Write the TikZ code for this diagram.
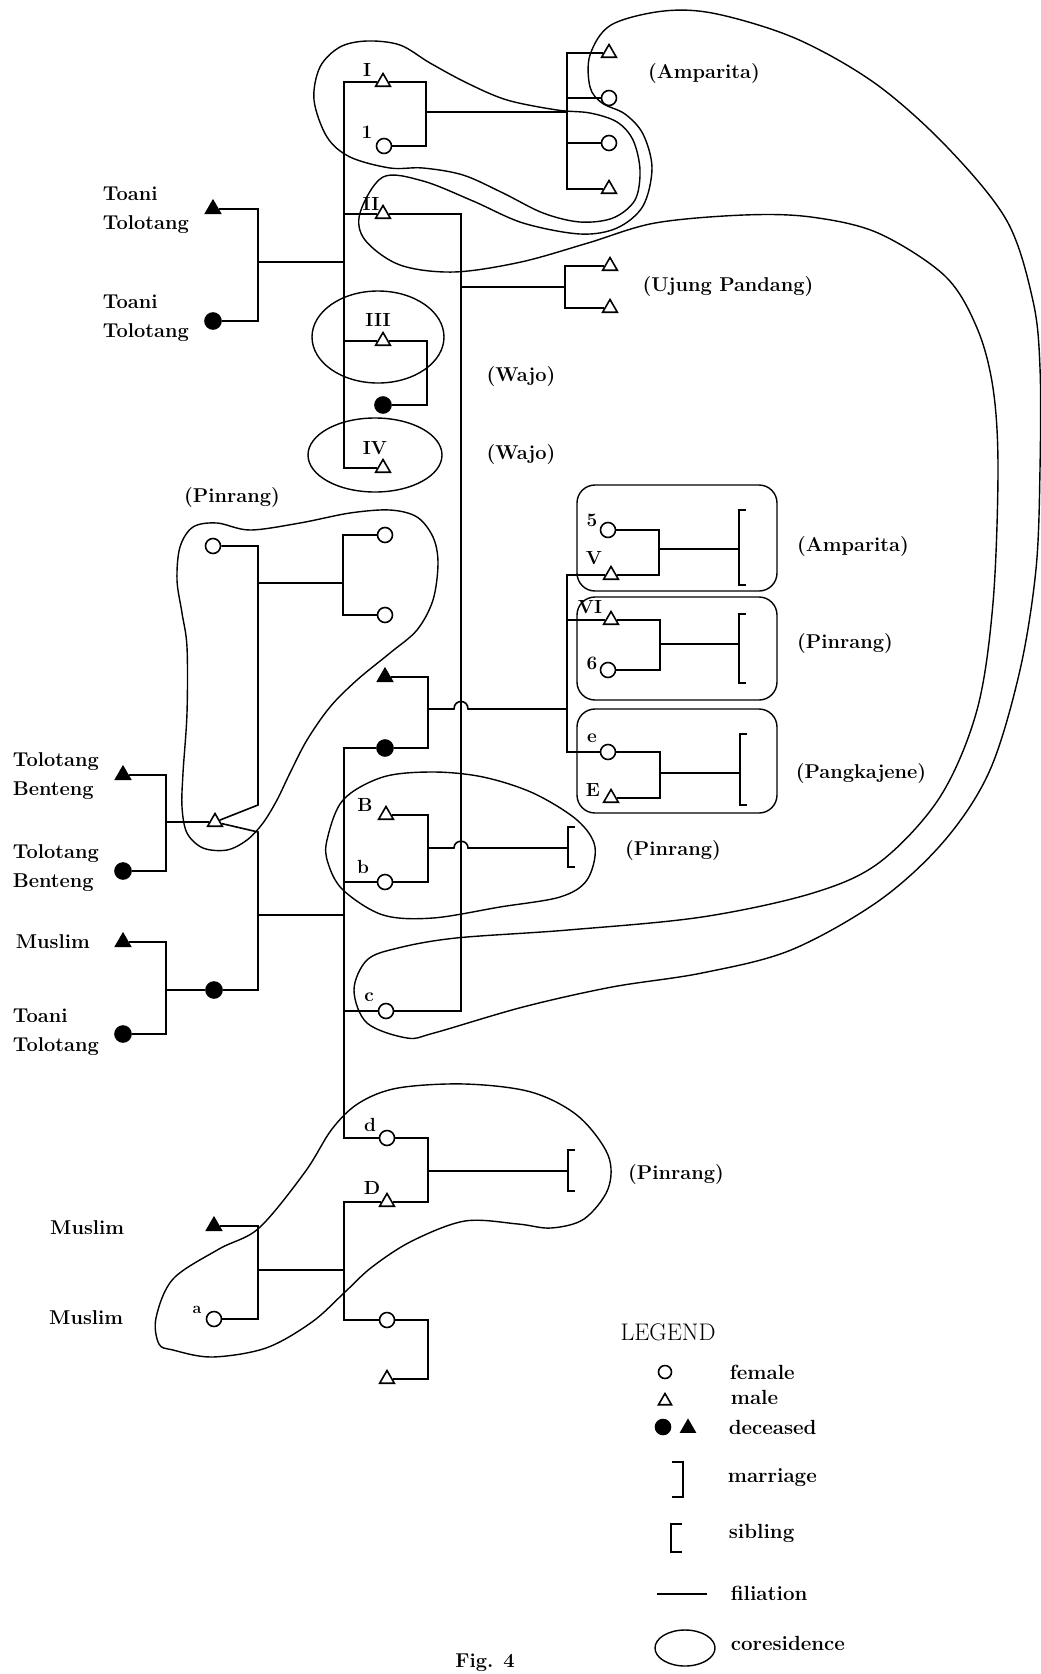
\documentclass[tikz,border=0pt]{standalone}
\usepackage{fontspec}
\usetikzlibrary{shapes.geometric}
\begin{document}
\begin{tikzpicture}[x=1pt,y=-1pt,line width=1.6pt,
  fem/.style={circle,draw,fill=white,minimum size=15pt,inner sep=0pt},
  dfem/.style={circle,draw,fill=black,minimum size=16pt,inner sep=0pt},
  mal/.style={regular polygon,regular polygon sides=3,draw,fill=white,minimum size=17pt,inner sep=0pt},
  dmal/.style={regular polygon,regular polygon sides=3,draw,fill=black,minimum size=17pt,inner sep=0pt},
  lbl/.style={font=\fontsize{19}{22}\selectfont\bfseries,inner sep=0pt},
  place/.style={font=\fontsize{20}{24}\selectfont\bfseries,inner sep=0pt},
  pname/.style={font=\fontsize{20}{29}\selectfont\bfseries,align=left,anchor=west,inner sep=0pt},
  leg/.style={font=\fontsize{20.5}{24}\selectfont\bfseries,anchor=west,inner sep=0pt},
  blob/.style={line width=1.4pt},
  box/.style={line width=1.4pt,rounded corners=18pt},
  ]
\useasboundingbox (0,0) rectangle (1041,1674);
\clip (0,0) rectangle (1041,1674);

% ---------------- coresidence shapes ----------------
\draw[blob] plot[smooth cycle,tension=0.55] coordinates {(314,100) (320,67) (340,47) (367,41) (400,45) (430,63) (467,83) (507,100) (557,110) (590,113) (617,122) (633,140) (640,170) (635,200) (613,218) (580,222) (543,213) (503,193) (463,175) (423,168) (390,168) (350,157) (327,137)};
\draw[blob] plot[smooth cycle,tension=0.55] coordinates {(360,213) (383,177) (423,181) (473,201) (523,223) (580,234) (617,228) (643,206) (652,168) (643,134) (625,114) (602,103) (590,87) (590,55) (611,25) (664,11) (717,14) (797,39) (876,84) (947,147) (1007,221) (1033,301) (1040,368) (1040,469) (1036,569) (1020,670) (990,770) (945,840) (880,900) (791,950) (702,973) (612,987) (523,1007) (434,1033) (407,1038) (367,1023) (354,990) (367,960) (398,948) (456,938) (568,930) (702,917) (813,893) (880,862) (940,797) (977,710) (993,603) (998,469) (993,388) (977,328) (945,276) (878,233) (811,217) (744,215) (655,223) (588,243) (521,262) (454,272) (400,265) (365,240)};
\draw[blob] (378,337) ellipse [x radius=66, y radius=46];
\draw[blob] (375,455) ellipse [x radius=67, y radius=37];
\draw[blob] plot[smooth cycle,tension=0.55] coordinates {(180,547) (193,527) (217,523) (250,530) (300,523) (350,513) (390,510) (417,517) (433,537) (438,563) (433,600) (417,630) (390,653) (357,680) (330,707) (307,740) (290,773) (277,800) (263,823) (247,840) (227,850) (203,848) (187,833) (182,807) (183,773) (187,713) (187,647) (182,613) (177,580)};
\draw[blob] plot[smooth cycle,tension=0.55] coordinates {(327,840) (343,800) (383,777) (433,772) (483,777) (533,793) (577,820) (595,847) (587,880) (560,897) (500,907) (433,918) (383,915) (343,890) (328,863)};
\draw[blob] plot[smooth cycle,tension=0.55] coordinates {(159,1344) (156,1318) (173,1279) (219,1249) (259,1228) (305,1172) (332,1129) (359,1103) (398,1088) (465,1084) (531,1092) (578,1116) (608,1155) (608,1189) (584,1219) (551,1228) (518,1224) (465,1221) (412,1241) (372,1267) (345,1292) (312,1322) (266,1348) (212,1357) (173,1350)};
\draw[box] (577,485) rectangle (777,591);
\draw[box] (577,597) rectangle (777,700);
\draw[box] (577,709) rectangle (777,813);

% ---------------- individuals ----------------
\node[dmal] (tt1) at (213,209) {};
\node[dfem] (tt2) at (213,321) {};
\node[mal] (I) at (383,82) {};
\node[fem] (w1) at (384,146) {};
\node[mal] (II) at (383,214) {};
\node[mal] (III) at (383,341) {};
\node[dfem] (w3) at (383,405) {};
\node[mal] (IV) at (383,468) {};
\node[mal] (ch1) at (609,53) {};
\node[fem] (ch2) at (609,98) {};
\node[fem] (ch3) at (609,143) {};
\node[mal] (ch4) at (609,189) {};
\node[mal] (up1) at (610,266) {};
\node[mal] (up2) at (610,308) {};
\node[fem] (pw) at (213,546) {};
\node[fem] (pc1) at (385,535) {};
\node[fem] (pc2) at (385,615) {};
\node[mal] (T) at (215,822) {};
\node[dmal] (tb1) at (123,775) {};
\node[dfem] (tb2) at (123,871) {};
\node[dfem] (W2) at (214,990) {};
\node[dmal] (mu1) at (123,942) {};
\node[dfem] (tt3) at (123,1034) {};
\node[dmal] (fm) at (385,677) {};
\node[dfem] (ff) at (385,748) {};
\node[fem] (f5) at (608,530) {};
\node[mal] (V) at (611,575) {};
\node[mal] (VI) at (611,620) {};
\node[fem] (f6) at (608,670) {};
\node[fem] (fe) at (608,752) {};
\node[mal] (ME) at (611,798) {};
\node[mal] (B) at (386,815) {};
\node[fem] (fb) at (385,882) {};
\node[fem] (fc) at (386,1011) {};
\node[fem] (fd) at (387,1138) {};
\node[mal] (D) at (387,1202) {};
\node[dmal] (mu2) at (214,1226) {};
\node[fem] (fa) at (214,1319) {};
\node[fem] (fl) at (387,1320) {};
\node[mal] (ml) at (387,1379) {};

% ---------------- coordinates ----------------
\coordinate (m1) at (258,262);  \coordinate (s1) at (344,262);
\coordinate (m2) at (426,112);  \coordinate (s2) at (567,112);
\coordinate (m3) at (461,287);  \coordinate (s3) at (565,287);
\coordinate (m4) at (427,373);
\coordinate (m5) at (258,583);  \coordinate (s5) at (343,583);
\coordinate (k1) at (258,805);
\coordinate (m6) at (166,822);
\coordinate (k2) at (258,832);  \coordinate (m7) at (258,915);  \coordinate (s7) at (344,915);
\coordinate (m8) at (166,990);
\coordinate (m9) at (428,709);  \coordinate (s9) at (567,709);
\coordinate (m10) at (659,549); \coordinate (b10) at (739,549);
\coordinate (bt10) at (746,510); \coordinate (bb10) at (746,585);
\coordinate (m11) at (660,644); \coordinate (b11) at (739,644);
\coordinate (bt11) at (746,614); \coordinate (bb11) at (746,683);
\coordinate (m12) at (660,773); \coordinate (b12) at (740,773);
\coordinate (bt12) at (747,734); \coordinate (bb12) at (747,805);
\coordinate (m13) at (428,848); \coordinate (b13) at (568,848);
\coordinate (bt13) at (575,827); \coordinate (bb13) at (575,867);
\coordinate (m14) at (428,1171); \coordinate (b14) at (568,1171);
\coordinate (bt14) at (575,1150); \coordinate (bb14) at (575,1191);
\coordinate (m15) at (258,1270); \coordinate (s15) at (344,1270);
\coordinate (m16) at (428,1350);

% ---------------- connectors ----------------
\draw (tt1) -| (m1) |- (tt2);
\draw (m1) -- (s1);
\draw (I) -| (s1) |- (IV);
\draw (II) -- (II -| s1);
\draw (III) -- (III -| s1);
\draw (I) -| (m2) |- (w1);
\draw (m2) -- (s2);
\draw (ch1) -| (s2) |- (ch4);
\draw (ch2) -- (ch2 -| s2);
\draw (ch3) -- (ch3 -| s2);
\draw (II) -| (m3) |- (fc);
\draw (m3) -- (s3);
\draw (up1) -| (s3) |- (up2);
\draw (III) -| (m4) |- (w3);
\draw (pw) -| (k1) -- (T);
\draw (m5) -- (s5);
\draw (pc1) -| (s5) |- (pc2);
\draw (tb1) -| (m6) |- (tb2);
\draw (m6) -- (T);
\draw (T) -- (k2) -- (m7) |- (W2);
\draw (mu1) -| (m8) |- (tt3);
\draw (m8) -- (W2);
\draw (m7) -- (s7);
\draw (ff) -| (s7) |- (fd);
\draw (fb) -- (fb -| s7);
\draw (fc) -- (fc -| s7);
\draw (fm) -| (m9) |- (ff);
\draw (m9) -- (454,709) .. controls (454,699) and (468,699) .. (468,709) -- (s9);
\draw (V) -| (s9) |- (fe);
\draw (VI) -- (VI -| s9);
\draw (f5) -| (m10) |- (V);
\draw (m10) -- (b10);
\draw (bt10) -| (b10) |- (bb10);
\draw (VI) -| (m11) |- (f6);
\draw (m11) -- (b11);
\draw (bt11) -| (b11) |- (bb11);
\draw (fe) -| (m12) |- (ME);
\draw (m12) -- (b12);
\draw (bt12) -| (b12) |- (bb12);
\draw (B) -| (m13) |- (fb);
\draw (m13) -- (454,848) .. controls (454,839) and (468,839) .. (468,848) -- (b13);
\draw (bt13) -| (b13) |- (bb13);
\draw (fd) -| (m14) |- (D);
\draw (m14) -- (b14);
\draw (bt14) -| (b14) |- (bb14);
\draw (mu2) -| (m15) |- (fa);
\draw (m15) -- (s15);
\draw (D) -| (s15) |- (fl);
\draw (fl) -| (m16) |- (ml);

% ---------------- labels ----------------
\node[lbl] (lI) at (367,70) {I};
\node[lbl] (l1) at (367,132) {1};
\node[lbl] (lII) at (371,204) {II};
\node[lbl] (lIII) at (378,320) {III};
\node[lbl] (lIV) at (375,448) {IV};
\node[lbl] (l5) at (592,520) {5};
\node[lbl] (lV) at (594,558) {V};
\node[lbl] (lVI) at (590,607) {VI};
\node[lbl] (l6) at (592,663) {6};
\node[lbl] (le) at (592,738) {e};
\node[lbl] (lE) at (593,790) {E};
\node[lbl] (lB) at (365,805) {B};
\node[lbl] (lb) at (363,867) {b};
\node[lbl] (lc) at (369,997) {c};
\node[lbl] (ld) at (370,1125) {d};
\node[lbl] (lD) at (372,1188) {D};
\node[lbl,font=\fontsize{16}{18}\selectfont\bfseries] (la) at (197,1310) {a};

\node[place] (p1) at (704,74) {(Amparita)};
\node[place] (p2) at (728,287) {(Ujung Pandang)};
\node[place] (p3) at (521,377) {(Wajo)};
\node[place] (p4) at (521,455) {(Wajo)};
\node[place] (p5) at (232,498) {(Pinrang)};
\node[place] (p6) at (853,546) {(Amparita)};
\node[place] (p7) at (845,643) {(Pinrang)};
\node[place] (p8) at (861,773) {(Pangkajene)};
\node[place] (p9) at (673,850) {(Pinrang)};
\node[place] (p10) at (676,1174) {(Pinrang)};

\node[pname] (n1) at (102,210) {Toani\\Tolotang};
\node[pname] (n2) at (102,318) {Toani\\Tolotang};
\node[pname] (n3) at (12,776) {Tolotang\\Benteng};
\node[pname] (n4) at (12,868) {Tolotang\\Benteng};
\node[pname] (n5) at (15,942) {Muslim};
\node[pname] (n6) at (12,1032) {Toani\\Tolotang};
\node[pname,anchor=east] (n7) at (125,1228) {Muslim};
\node[pname,anchor=east] (n8) at (124,1318) {Muslim};

% ---------------- legend ----------------
\node[font=\fontsize{24}{28}\selectfont,inner sep=0pt] (leg) at (668,1332) {LEGEND};
\node[fem,minimum size=13pt] (lf) at (665,1372) {};
\node[mal,minimum size=15pt] (lm) at (665,1401) {};
\node[dfem,minimum size=15pt] (ldf) at (663,1427) {};
\node[dmal,minimum size=16pt] (ldm) at (688,1428) {};
\node[leg] (tf) at (729,1372) {female};
\node[leg] (tm) at (730,1397) {male};
\node[leg] (td) at (728,1427) {deceased};
\coordinate (lma) at (672,1462); \coordinate (lmb) at (683,1497);
\draw (lma) -| (lmb) -- (672,1497);
\node[leg] (tmar) at (727,1478) {marriage};
\coordinate (lsa) at (682,1524); \coordinate (lsb) at (671,1552);
\draw (lsa) -| (lsb) -- (682,1552);
\node[leg] (ts) at (728,1533) {sibling};
\coordinate (lfa) at (657,1594); \coordinate (lfb) at (707,1594);
\draw (lfa) -- (lfb);
\node[leg] (tfil) at (730,1593) {filiation};
\draw[blob] (685,1648) ellipse [x radius=30, y radius=18];
\node[leg] (tco) at (730,1643) {coresidence};
\node[font=\fontsize{20}{24}\selectfont\bfseries,anchor=south,inner sep=0pt] (fig) at (485,1672) {Fig. 4};
\end{tikzpicture}
\end{document}
